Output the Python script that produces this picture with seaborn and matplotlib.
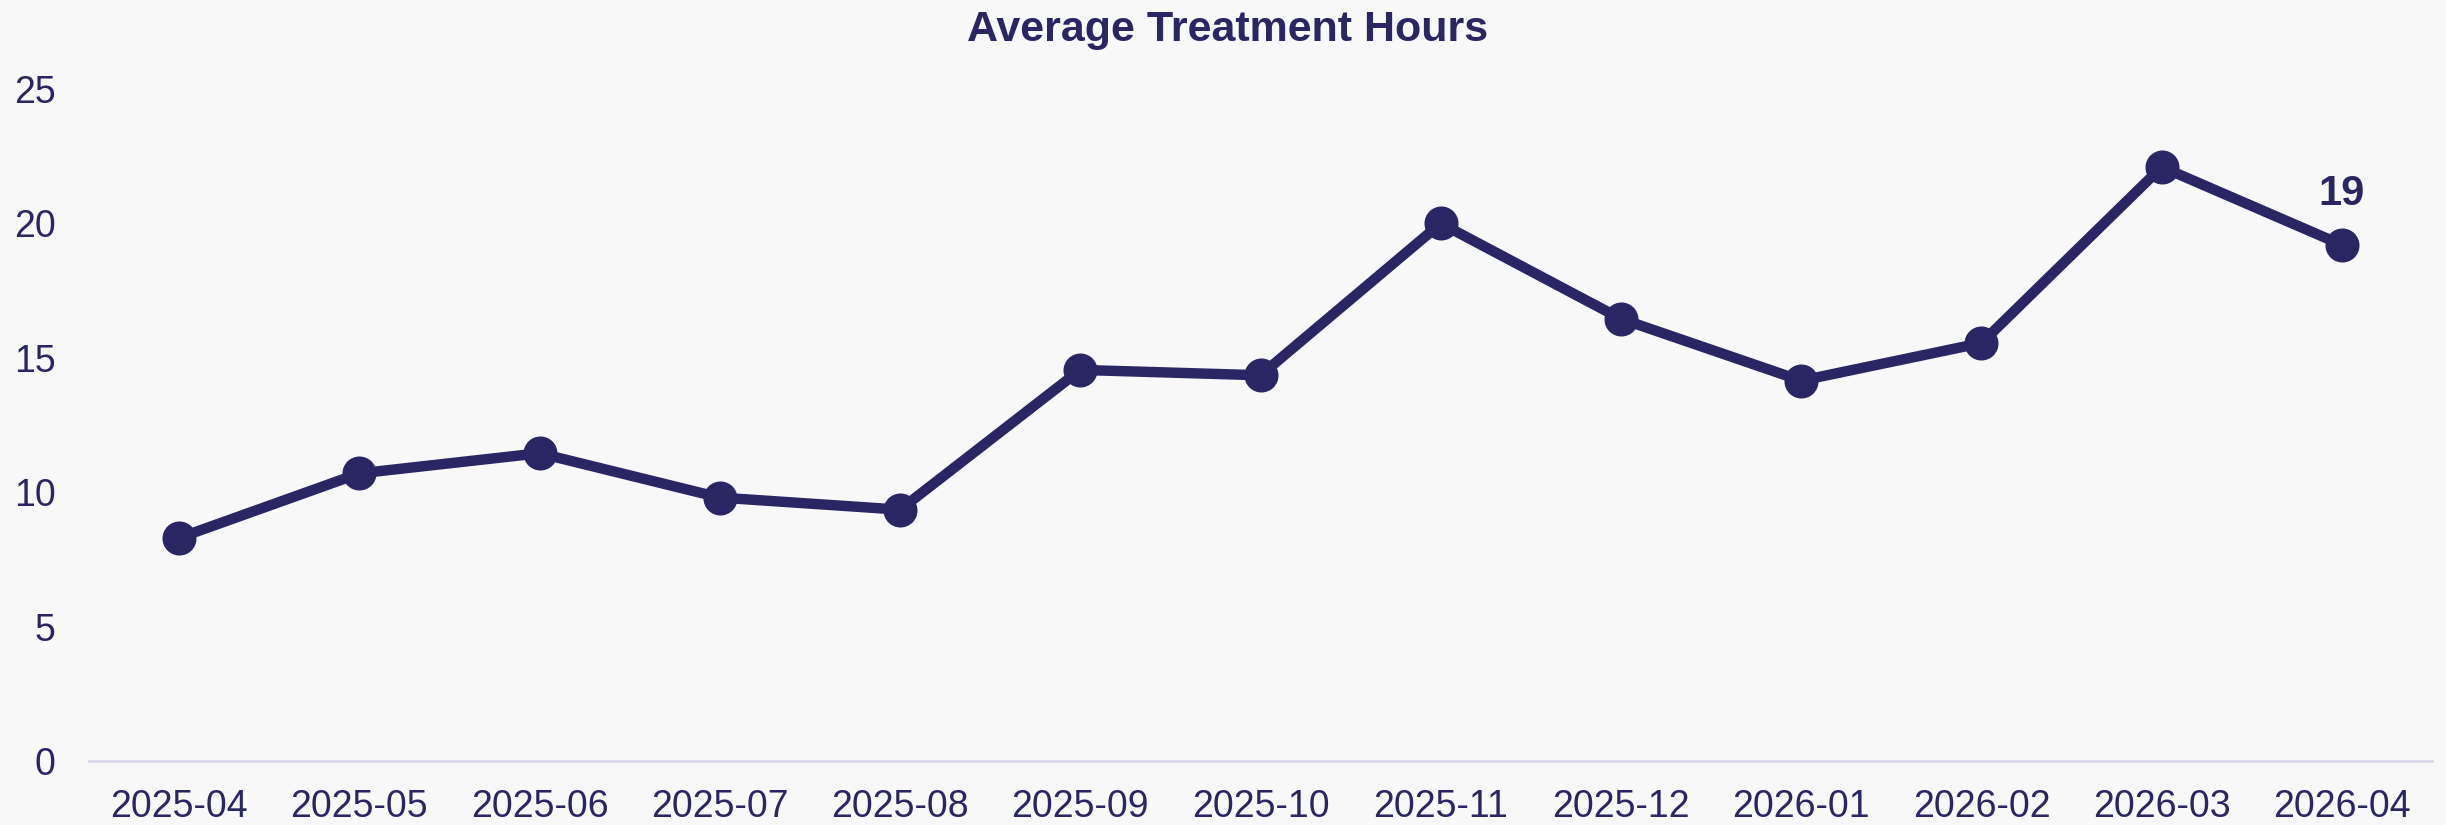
import matplotlib
matplotlib.use("Agg")
import matplotlib.pyplot as plt
import seaborn as sns
import pandas as pd

months = ["2025-04", "2025-05", "2025-06", "2025-07", "2025-08", "2025-09", "2025-10",
          "2025-11", "2025-12", "2026-01", "2026-02", "2026-03", "2026-04"]
hours = [8.3, 10.7, 11.45, 9.8, 9.35, 14.55, 14.35, 20.0, 16.45, 14.15, 15.55, 22.1, 19.2]
y_ticks = [0, 5, 10, 15, 20, 25]
title = "Average Treatment Hours"

navy = "#2a2663"
bg = "#f8f8f8"

sns.set_theme(style="white")
plt.rcParams["font.family"] = ["Liberation Sans", "DejaVu Sans"]

df = pd.DataFrame({"month": months, "hours": hours})

fig = plt.figure(figsize=(24.46, 8.25), dpi=100, facecolor=bg)
ax = fig.add_axes([0.0364, 0.0776, 0.9579, 0.8145])
ax.set_facecolor(bg)

sns.lineplot(data=df, x="month", y="hours", ax=ax, color=navy, linewidth=7.5,
             marker="o", markersize=24.5, markeredgewidth=0, sort=False)

ax.set_xlim(-0.5, len(months) - 0.5)
ax.set_ylim(0, 25)
ax.set_yticks(y_ticks)
ax.set_yticklabels([str(t) for t in y_ticks])
ax.set_xlabel("")
ax.set_ylabel("")
ax.tick_params(axis="both", length=0, labelsize=27, labelcolor=navy)
ax.tick_params(axis="x", pad=20)
ax.tick_params(axis="y", pad=24)
for s in ["top", "right", "left"]:
    ax.spines[s].set_visible(False)
ax.spines["bottom"].set_color("#d8d8ec")
ax.spines["bottom"].set_linewidth(2)
ax.grid(False)

# label on last point
ax.annotate(f"{hours[-1]:.0f}", xy=(len(months) - 1, hours[-1]), xytext=(0, 22),
            textcoords="offset points", ha="center", va="bottom",
            fontsize=30, fontweight="bold", color=navy)

fig.text(0.502, 0.964, title, ha="center", va="center", fontsize=31,
         fontweight="bold", color=navy)

fig.savefig("out.png", dpi=100, facecolor=bg)
